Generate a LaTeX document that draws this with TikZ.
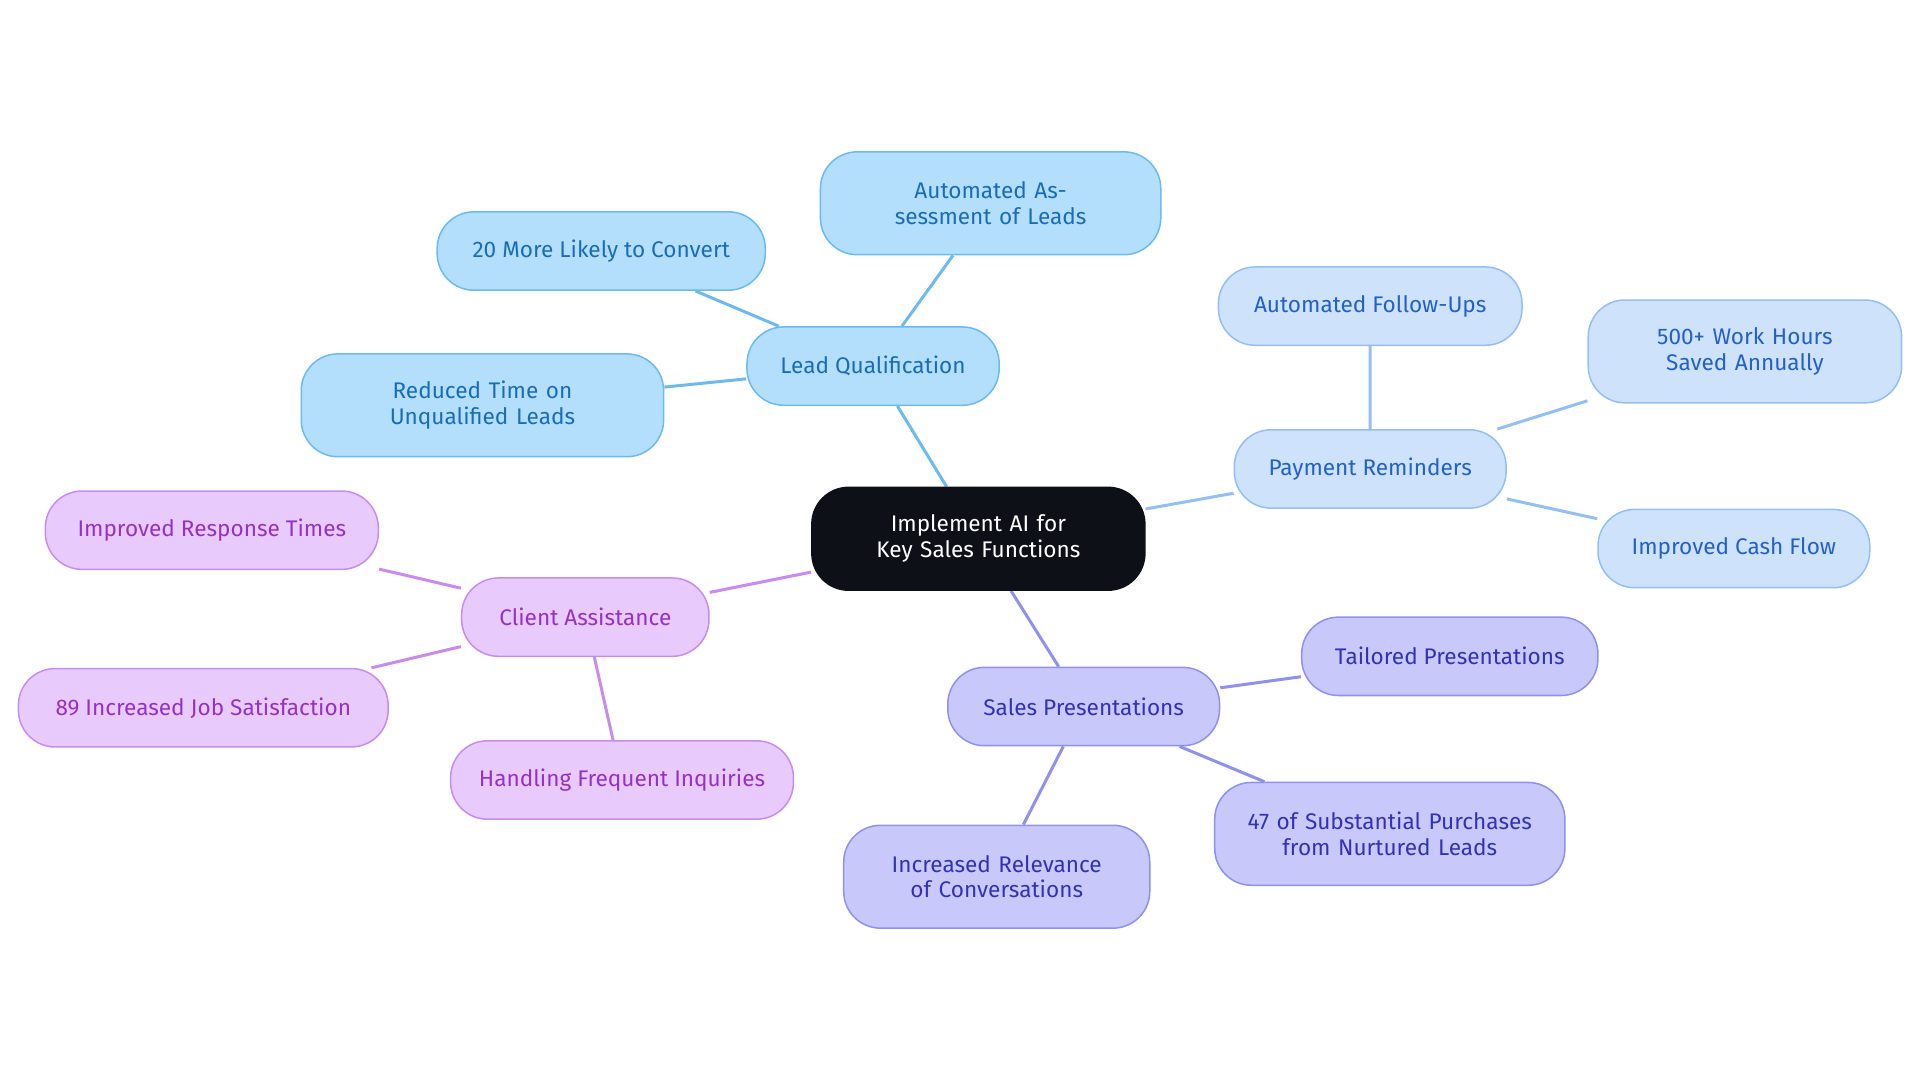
\documentclass[tikz,border=0pt]{standalone}
\usepackage{fontspec}
\setmainfont{Fira Sans}
\usetikzlibrary{backgrounds}
\definecolor{cdark}{HTML}{0D1117}
\definecolor{lqf}{HTML}{B3DFFC}\definecolor{lqd}{HTML}{6CBAF0}\definecolor{lqt}{HTML}{1A6CB8}
\definecolor{prf}{HTML}{CEE2FC}\definecolor{prd}{HTML}{94BFF2}\definecolor{prt}{HTML}{2360C8}
\definecolor{spf}{HTML}{C8C8FA}\definecolor{spd}{HTML}{9090EE}\definecolor{spt}{HTML}{3232B8}
\definecolor{caf}{HTML}{E8CBFC}\definecolor{cad}{HTML}{C88CF0}\definecolor{cat}{HTML}{9530C8}
\tikzset{
 box/.style={rounded corners=0.6cm, draw, line width=0.7pt, align=center, inner sep=2pt, font=\fontsize{10.5}{12}\selectfont},
 lq/.style={box, fill=lqf, draw=lqd, text=lqt},
 pr/.style={box, fill=prf, draw=prd, text=prt},
 sp/.style={box, fill=spf, draw=spd, text=spt},
 ca/.style={box, fill=caf, draw=cad, text=cat},
 e/.style={line width=1.4pt},
}
\begin{document}
\begin{tikzpicture}[x=0.02cm,y=-0.02cm]
\useasboundingbox (0,0) rectangle (1568,884);
\node[box, fill=cdark, draw=cdark, text=white, minimum width=5.44cm, minimum height=1.68cm, text width=4.6cm] (c) at (799,440) {Implement AI for Key Sales Functions};
\node[lq, minimum width=4.12cm, minimum height=1.28cm] (lq) at (713,299) {Lead Qualification};
\node[lq, minimum width=5.56cm, minimum height=1.68cm, text width=4.8cm] (lq1) at (809,166) {Automated Assessment of Leads};
\node[lq, minimum width=5.36cm, minimum height=1.28cm] (lq2) at (491,205) {20 More Likely to Convert};
\node[lq, minimum width=5.92cm, minimum height=1.68cm, text width=5.2cm] (lq3) at (394,331) {Reduced Time on Unqualified Leads};
\node[pr, minimum width=4.44cm, minimum height=1.28cm] (pr) at (1119,383) {Payment Reminders};
\node[pr, minimum width=4.96cm, minimum height=1.28cm] (pr1) at (1119,250) {Automated Follow-Ups};
\node[pr, minimum width=5.12cm, minimum height=1.68cm, text width=4.4cm] (pr2) at (1425,287) {500+ Work Hours Saved Annually};
\node[pr, minimum width=4.44cm, minimum height=1.28cm] (pr3) at (1416,448) {Improved Cash Flow};
\node[sp, minimum width=4.44cm, minimum height=1.28cm] (sp) at (885,577) {Sales Presentations};
\node[sp, minimum width=4.84cm, minimum height=1.28cm] (sp1) at (1184,536) {Tailored Presentations};
\node[sp, minimum width=5.72cm, minimum height=1.68cm, text width=5.0cm] (sp2) at (1135,681) {47 of Substantial Purchases\\from Nurtured Leads};
\node[sp, minimum width=5.0cm, minimum height=1.68cm, text width=4.4cm] (sp3) at (814,716) {Increased Relevance of Conversations};
\node[ca, minimum width=4.04cm, minimum height=1.28cm] (ca) at (478,504) {Client Assistance};
\node[ca, minimum width=5.44cm, minimum height=1.28cm] (ca1) at (173,433) {Improved Response Times};
\node[ca, minimum width=6.04cm, minimum height=1.28cm] (ca2) at (166,578) {89 Increased Job Satisfaction};
\node[ca, minimum width=5.6cm, minimum height=1.28cm] (ca3) at (508,637) {Handling Frequent Inquiries};
\begin{scope}[on background layer]
\draw[e, lqd] (c) -- (lq) (lq) -- (lq1) (lq) -- (lq2) (lq) -- (lq3);
\draw[e, prd] (c) -- (pr) (pr) -- (pr1) (pr) -- (pr2) (pr) -- (pr3);
\draw[e, spd] (c) -- (sp) (sp) -- (sp1) (sp) -- (sp2) (sp) -- (sp3);
\draw[e, cad] (c) -- (ca) (ca) -- (ca1) (ca) -- (ca2) (ca) -- (ca3);
\end{scope}
\end{tikzpicture}
\end{document}
